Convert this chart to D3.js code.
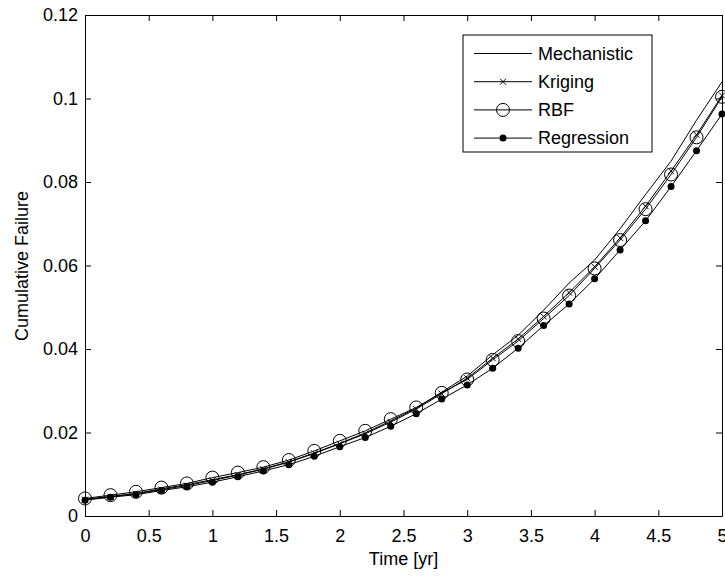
<!DOCTYPE html>
<html>
<head>
<meta charset="utf-8">
<script src="https://cdn.jsdelivr.net/npm/d3@7"></script>
<style>
  body { margin: 0; background: #fff; }
  svg text { font-family: "Liberation Sans", Arial, sans-serif; fill: #000; }
</style>
</head>
<body>
<svg id="chart" width="725" height="581"></svg>
<script>
// time points (years)
const times = [0, 0.2, 0.4, 0.6, 0.8, 1.0, 1.2, 1.4, 1.6, 1.8, 2.0, 2.2, 2.4, 2.6, 2.8, 3.0, 3.2, 3.4, 3.6, 3.8, 4.0, 4.2, 4.4, 4.6, 4.8, 5.0];

const mechanistic = [0.0040, 0.0047, 0.0054, 0.0065, 0.0075, 0.0087, 0.0099, 0.0113, 0.0130, 0.0151, 0.0174, 0.0199, 0.0228, 0.0258, 0.0297, 0.0335, 0.0386, 0.0433, 0.0493, 0.0558, 0.0613, 0.0688, 0.0770, 0.0850, 0.0948, 0.1040];
const kriging     = [0.0039, 0.0046, 0.0053, 0.0063, 0.0073, 0.0085, 0.0098, 0.0112, 0.0129, 0.0150, 0.0173, 0.0197, 0.0225, 0.0256, 0.0293, 0.0330, 0.0378, 0.0424, 0.0478, 0.0535, 0.0597, 0.0666, 0.0742, 0.0826, 0.0913, 0.1007];
const rbf         = [0.0042, 0.0050, 0.0058, 0.0068, 0.0078, 0.0092, 0.0104, 0.0117, 0.0134, 0.0156, 0.0180, 0.0204, 0.0232, 0.0260, 0.0295, 0.0327, 0.0374, 0.0419, 0.0473, 0.0528, 0.0593, 0.0661, 0.0735, 0.0818, 0.0907, 0.1004];
const regression  = [0.0038, 0.0045, 0.0051, 0.0061, 0.0070, 0.0081, 0.0094, 0.0108, 0.0123, 0.0143, 0.0166, 0.0188, 0.0215, 0.0245, 0.0280, 0.0314, 0.0354, 0.0402, 0.0456, 0.0508, 0.0568, 0.0637, 0.0707, 0.0789, 0.0875, 0.0963];

const xTicks = [0, 0.5, 1, 1.5, 2, 2.5, 3, 3.5, 4, 4.5, 5];
const yTicks = [0, 0.02, 0.04, 0.06, 0.08, 0.1, 0.12];
const seriesNames = ['Mechanistic', 'Kriging', 'RBF', 'Regression'];

const svg = d3.select('#chart');
const margin = { top: 15, right: 3, bottom: 65, left: 85 };
const width = 725 - margin.left - margin.right;
const height = 581 - margin.top - margin.bottom;

svg.append('rect').attr('width', 725).attr('height', 581).attr('fill', '#fff');

const g = svg.append('g').attr('transform', `translate(${margin.left},${margin.top})`);

const x = d3.scaleLinear().domain([0, 5]).range([0, width]);
const y = d3.scaleLinear().domain([0, 0.12]).range([height, 0]);

const fmt = d => String(+d.toFixed(2));

// axes with inward ticks, MATLAB style
g.append('g').attr('transform', `translate(0,${height})`)
  .call(d3.axisBottom(x).tickValues(xTicks).tickFormat(fmt).tickSizeInner(-6).tickSizeOuter(0).tickPadding(13));
g.append('g')
  .call(d3.axisLeft(y).tickValues(yTicks).tickFormat(fmt).tickSizeInner(-6).tickSizeOuter(0).tickPadding(7));
g.append('g')
  .call(d3.axisTop(x).tickValues(xTicks).tickFormat('').tickSizeInner(-6).tickSizeOuter(0));
g.append('g').attr('transform', `translate(${width},0)`)
  .call(d3.axisRight(y).tickValues(yTicks).tickFormat('').tickSizeInner(-6).tickSizeOuter(0));

g.selectAll('.domain').attr('stroke', '#000').attr('stroke-width', 1);
g.selectAll('.tick line').attr('stroke', '#000');
g.selectAll('.tick text').style('font-size', '18px');

const line = d3.line().x((d, i) => x(times[i])).y(d => y(d));

const seriesData = [mechanistic, kriging, rbf, regression];
seriesData.forEach(s => {
  g.append('path').datum(s).attr('d', line)
    .attr('fill', 'none').attr('stroke', '#000').attr('stroke-width', 1);
});

function drawMarker(sel, kind, cx, cy) {
  if (kind === 'Kriging') {
    const r = 3;
    sel.append('path')
      .attr('d', `M${cx - r},${cy - r}L${cx + r},${cy + r}M${cx - r},${cy + r}L${cx + r},${cy - r}`)
      .attr('stroke', '#000').attr('stroke-width', 1);
  } else if (kind === 'RBF') {
    sel.append('circle').attr('cx', cx).attr('cy', cy).attr('r', 6.5)
      .attr('fill', 'none').attr('stroke', '#000').attr('stroke-width', 1);
  } else if (kind === 'Regression') {
    sel.append('circle').attr('cx', cx).attr('cy', cy).attr('r', 3.5).attr('fill', '#000');
  }
}

const markers = g.append('g');
seriesNames.forEach((name, k) => {
  seriesData[k].forEach((v, i) => drawMarker(markers, name, x(times[i]), y(v)));
});

// legend
const legend = svg.append('g').attr('transform', 'translate(463,35)');
legend.append('rect').attr('width', 189).attr('height', 117)
  .attr('fill', '#fff').attr('stroke', '#000').attr('stroke-width', 1);
seriesNames.forEach((name, k) => {
  const ly = 18.5 + k * 28.2;
  legend.append('line').attr('x1', 11).attr('x2', 69).attr('y1', ly).attr('y2', ly)
    .attr('stroke', '#000').attr('stroke-width', 1);
  drawMarker(legend, name, 40, ly);
  legend.append('text').attr('x', 75).attr('y', ly).attr('dy', '0.35em')
    .style('font-size', '18px').text(name);
});

// axis titles
svg.append('text').attr('x', margin.left + width / 2).attr('y', 565)
  .style('text-anchor', 'middle').style('font-size', '18px').text('Time [yr]');
svg.append('text').attr('transform', 'rotate(-90)')
  .attr('x', -266).attr('y', 28)
  .style('text-anchor', 'middle').style('font-size', '18px').text('Cumulative Failure');
</script>
</body>
</html>
